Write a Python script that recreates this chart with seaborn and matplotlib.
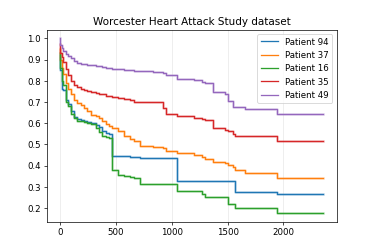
import matplotlib
matplotlib.use("Agg")
import matplotlib.pyplot as plt
import matplotlib.ticker as ticker
import seaborn as sns
import pandas as pd

# shared event times (days)
times = [0, 5, 15, 30, 50, 70, 95, 125, 155, 185, 215, 245, 275, 320, 350,
         380, 410, 440, 470, 520, 570, 630, 660, 715, 830, 920, 945, 1050,
         1200, 1270, 1300, 1370, 1480, 1500, 1545, 1570, 1660, 1945, 2358]

patient_94 = [0.92, 0.85, 0.76, 0.755, 0.71, 0.69, 0.655, 0.628, 0.62, 0.615,
              0.61, 0.605, 0.60, 0.59, 0.58, 0.565, 0.555, 0.548, 0.447, 0.445,
              0.443, 0.441, 0.44, 0.437, 0.436, 0.435, 0.435, 0.327, 0.327,
              0.327, 0.327, 0.327, 0.327, 0.327, 0.327, 0.277, 0.277, 0.268, 0.268]
patient_37 = [0.95, 0.90, 0.86, 0.83, 0.79, 0.76, 0.735, 0.71, 0.695, 0.684,
              0.67, 0.655, 0.638, 0.632, 0.625, 0.612, 0.598, 0.588, 0.578,
              0.562, 0.54, 0.527, 0.516, 0.492, 0.488, 0.484, 0.468, 0.46,
              0.448, 0.44, 0.432, 0.415, 0.41, 0.404, 0.392, 0.377, 0.365,
              0.341, 0.341]
patient_16 = [0.93, 0.86, 0.80, 0.78, 0.70, 0.68, 0.645, 0.622, 0.612, 0.61,
              0.605, 0.60, 0.595, 0.578, 0.558, 0.54, 0.535, 0.532, 0.38,
              0.355, 0.35, 0.345, 0.34, 0.312, 0.312, 0.312, 0.312, 0.278,
              0.278, 0.267, 0.25, 0.25, 0.25, 0.218, 0.218, 0.20, 0.20, 0.177,
              0.177]
patient_35 = [0.975, 0.93, 0.91, 0.89, 0.855, 0.825, 0.80, 0.78, 0.77, 0.762,
              0.756, 0.75, 0.746, 0.742, 0.738, 0.735, 0.73, 0.727, 0.722,
              0.719, 0.715, 0.708, 0.70, 0.70, 0.698, 0.672, 0.643, 0.635,
              0.625, 0.619, 0.615, 0.577, 0.567, 0.562, 0.548, 0.54, 0.538,
              0.514, 0.514]
patient_49 = [1.0, 0.97, 0.955, 0.94, 0.925, 0.915, 0.905, 0.895, 0.885, 0.88,
              0.877, 0.874, 0.872, 0.869, 0.867, 0.865, 0.862, 0.86, 0.857,
              0.855, 0.852, 0.849, 0.847, 0.845, 0.843, 0.835, 0.825, 0.81,
              0.803, 0.795, 0.79, 0.748, 0.735, 0.705, 0.677, 0.674, 0.665,
              0.642, 0.642]

labels = ["Patient 94", "Patient 37", "Patient 16", "Patient 35", "Patient 49"]
series = [patient_94, patient_37, patient_16, patient_35, patient_49]

df = pd.DataFrame({
    "time": times * len(labels),
    "survival": [v for s in series for v in s],
    "patient": [lab for lab in labels for _ in times],
})

fig = plt.figure(figsize=(6.0, 4.0), dpi=62.34)
ax = fig.add_subplot(111)
colors = sns.color_palette("tab10", 5)

for lab, col in zip(labels, colors):
    sub = df[df["patient"] == lab]
    # faint halo under each curve
    ax.step(sub["time"], sub["survival"], where="post", color=col,
            linewidth=3, alpha=0.25)
    sns.lineplot(data=sub, x="time", y="survival", ax=ax, label=lab,
                 color=col, drawstyle="steps-post", linewidth=1.5,
                 errorbar=None, sort=False)

ax.yaxis.set_major_locator(ticker.MultipleLocator(0.1))
ax.grid(axis="x", alpha=0.3)
ax.set_xlabel("")
ax.set_ylabel("")
ax.set_title("Worcester Heart Attack Study dataset")
ax.legend(loc="upper right")

fig.savefig("out.png")
